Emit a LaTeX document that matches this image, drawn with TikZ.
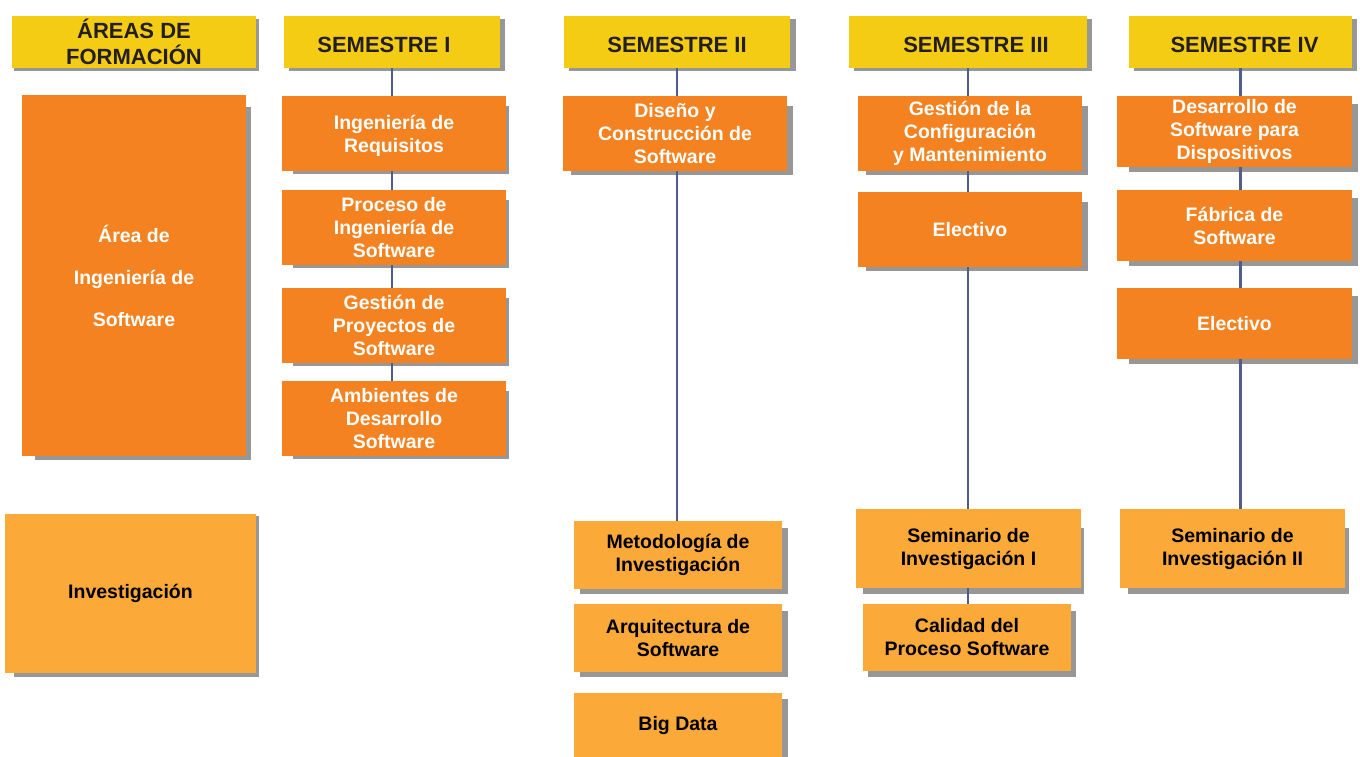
\documentclass[tikz,border=0pt]{standalone}
\usepackage{fontspec}
\setmainfont{Liberation Sans}
\definecolor{hdryellow}{HTML}{F5CC14}
\definecolor{hdrtext}{HTML}{231F20}
\definecolor{orangebox}{HTML}{F48221}
\definecolor{lightbox}{HTML}{FBAA3A}
\definecolor{shadowgray}{HTML}{979797}
\definecolor{linkblue}{HTML}{4D5E8E}
\pgfdeclarelayer{bg}
\pgfsetlayers{bg,main}
\tikzset{
  box/.style={anchor=north west, inner sep=0pt, outer sep=0pt, align=center,
    font=\bfseries\fontsize{19.5}{23}\selectfont},
  hdr/.style={box, fill=hdryellow, text=hdrtext, font=\bfseries\fontsize{22}{26}\selectfont},
  obox/.style={box, fill=orangebox, text=white},
  lbox/.style={box, fill=lightbox, text=black},
  link/.style={draw=linkblue, line width=2.2pt},
  shad/.style={fill=shadowgray}
}
% style, name, x1, y1, x2, y2, text
\newcommand\bx[7]{%
  \node[#1, minimum width={(#5-#3)*1pt}, minimum height={(#6-#4)*1pt}] (#2) at (#3,#4) {#7};}
% name, dx1, dy1, dx2, dy2
\newcommand\shd[5]{%
  \begin{pgfonlayer}{bg}
    \fill[shad] ([shift={(#2,#3)}]#1.north west) rectangle ([shift={(#4,#5)}]#1.south east);
  \end{pgfonlayer}}
\newcommand\hstrut{\rule{0pt}{21pt}}
\begin{document}
\begin{tikzpicture}[x=1pt,y=-1pt]
\useasboundingbox (0,0) rectangle (1360,756);
% headers
\bx{hdr}{h0}{12}{16}{256}{68}{ÁREAS DE\\FORMACIÓN}
\bx{hdr}{h1}{284}{16}{500}{68}{\hstrut\hspace*{-16pt}SEMESTRE I}
\bx{hdr}{h2}{564}{16}{790}{68}{\hstrut SEMESTRE II}
\bx{hdr}{h3}{849}{16}{1087}{68}{\hstrut\hspace*{16pt}SEMESTRE III}
\bx{hdr}{h4}{1129}{16}{1352}{68}{\hstrut\hspace*{8pt}SEMESTRE IV}
\shd{h0}{2}{3}{3}{3}
\shd{h1}{5}{3}{5}{3}
\shd{h2}{5}{3}{6}{3}
\shd{h3}{5}{3}{5}{3}
\shd{h4}{5}{3}{5}{3}
% areas
\bx{obox}{a1}{22}{95}{246}{456}{Área de\\[19pt]Ingeniería de\\[19pt]Software}
\shd{a1}{13}{12}{5}{4}
\bx{lbox}{inv}{5}{514}{256}{673}{Investigación}
\shd{inv}{9}{2}{3}{4}
% semestre I
\bx{obox}{r1}{282}{96}{506}{171}{\rule{0pt}{20pt}Ingeniería de\\Requisitos}
\bx{obox}{r2}{282}{190}{506}{265}{Proceso de\\Ingeniería de\\Software}
\bx{obox}{r3}{282}{288}{506}{363}{Gestión de\\Proyectos de\\Software}
\bx{obox}{r4}{282}{381}{506}{456}{Ambientes de\\Desarrollo\\Software}
\shd{r1}{11}{10}{3}{3}
\shd{r2}{11}{10}{3}{3}
\shd{r3}{11}{10}{3}{3}
\shd{r4}{11}{10}{3}{3}
% semestre II
\bx{obox}{d1}{563}{96}{787}{171}{Diseño y\\Construcción de\\Software}
\shd{d1}{8}{10}{6}{4}
\bx{lbox}{m1}{574}{521}{782}{589}{Metodología de\\Investigación}
\bx{lbox}{ar}{574}{604}{782}{672}{Arquitectura de\\Software}
\bx{lbox}{bd}{574}{693}{782}{757}{Big Data}
\shd{m1}{6}{7}{6}{5}
\shd{ar}{6}{7}{6}{5}
\shd{bd}{6}{6}{6}{5}
% semestre III
\bx{obox}{g1}{858}{96}{1082}{171}{Gestión de la\\Configuración\\y Mantenimiento}
\bx{obox}{e1}{858}{192}{1082}{267}{Electivo}
\bx{lbox}{s1}{856}{509}{1081}{588}{Seminario de\\Investigación I}
\bx{lbox}{ca}{863}{604}{1071}{671}{Calidad del\\Proceso Software}
\shd{g1}{8}{10}{6}{4}
\shd{e1}{8}{10}{6}{4}
\shd{s1}{7}{19}{3}{6}
\shd{ca}{5}{7}{5}{6}
% semestre IV
\bx{obox}{de}{1117}{96}{1352}{167}{Desarrollo de\\Software para\\Dispositivos}
\bx{obox}{fa}{1117}{190}{1352}{261}{Fábrica de\\Software}
\bx{obox}{e2}{1117}{288}{1352}{359}{Electivo}
\bx{lbox}{s2}{1120}{509}{1345}{588}{Seminario de\\Investigación II}
\shd{de}{12}{8}{6}{5}
\shd{fa}{12}{8}{6}{5}
\shd{e2}{12}{8}{6}{5}
\shd{s2}{8}{19}{4}{6}
% connectors
\draw[link] (h1.south) -- (r1.north -| h1.south);
\draw[link] (r1.south -| h1.south) -- (r2.north -| h1.south);
\draw[link] (r2.south -| h1.south) -- (r3.north -| h1.south);
\draw[link] (r3.south -| h1.south) -- (r4.north -| h1.south);
\draw[link] (h2.south) -- (d1.north -| h2.south);
\draw[link] (d1.south -| h2.south) -- (m1.north -| h2.south);
\draw[link] (h3.south) -- (g1.north -| h3.south);
\draw[link] (g1.south -| h3.south) -- (e1.north -| h3.south);
\draw[link] (e1.south -| h3.south) -- (s1.north -| h3.south);
\draw[link] (s1.south -| h3.south) -- (ca.north -| h3.south);
\draw[link] (h4.south) -- (de.north -| h4.south);
\draw[link] (de.south -| h4.south) -- (fa.north -| h4.south);
\draw[link] (fa.south -| h4.south) -- (e2.north -| h4.south);
\draw[link] (e2.south -| h4.south) -- (s2.north -| h4.south);
\end{tikzpicture}
\end{document}
